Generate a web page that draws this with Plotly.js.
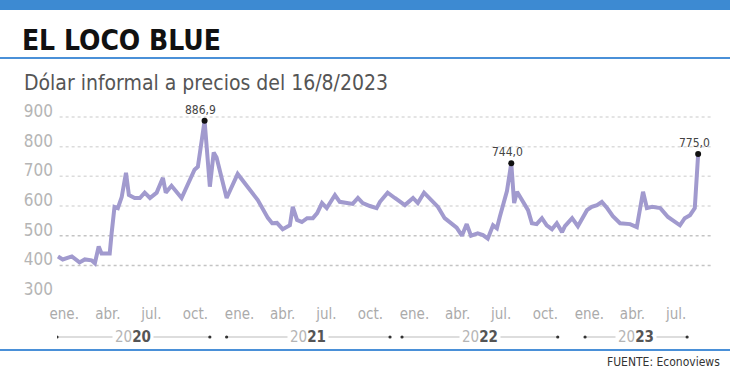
<!DOCTYPE html>
<html>
<head>
<meta charset="utf-8">
<script src="https://cdn.plot.ly/plotly-3.0.1.min.js"></script>
<style>html,body{margin:0;padding:0;background:#fff;}#chart{width:730px;height:376px;}</style>
</head>
<body>
<div id="chart"></div>
<script>
// ---- data ----
const dates = [
 '2019-12-19','2019-12-29','2020-01-17','2020-02-02','2020-02-13','2020-02-27','2020-03-05','2020-03-13','2020-03-19','2020-04-05',
 '2020-04-09','2020-04-15','2020-04-22','2020-04-30','2020-05-09','2020-05-15','2020-05-27','2020-06-07','2020-06-17','2020-06-28',
 '2020-07-12','2020-07-25','2020-07-31','2020-08-08','2020-08-12','2020-09-02','2020-09-29','2020-10-06','2020-10-20','2020-10-31',
 '2020-11-08','2020-11-14','2020-11-21','2020-12-05','2020-12-28','2021-01-18','2021-02-08','2021-03-01','2021-03-10','2021-03-20',
 '2021-04-01','2021-04-16','2021-04-22','2021-05-01','2021-05-11','2021-05-22','2021-06-03','2021-06-12','2021-06-22','2021-07-02',
 '2021-07-19','2021-07-29','2021-08-13','2021-08-25','2021-09-05','2021-09-15','2021-09-30','2021-10-14','2021-10-21','2021-11-06',
 '2021-11-21','2021-12-12','2021-12-29','2022-01-08','2022-01-21','2022-02-06','2022-02-19','2022-03-05','2022-03-30','2022-04-10',
 '2022-04-20','2022-04-29','2022-05-13','2022-05-24','2022-06-03','2022-06-14','2022-06-22','2022-06-28','2022-07-05','2022-07-13',
 '2022-07-22','2022-07-28','2022-08-03','2022-08-13','2022-08-26','2022-09-03','2022-09-13','2022-09-24','2022-10-04','2022-10-15',
 '2022-10-25','2022-11-05','2022-11-11','2022-11-26','2022-12-08','2022-12-27','2023-01-06','2023-01-17','2023-01-27','2023-02-07',
 '2023-02-19','2023-03-06','2023-03-27','2023-04-10','2023-04-23','2023-05-01','2023-05-12','2023-05-29','2023-06-14','2023-07-09',
 '2023-07-19','2023-07-30','2023-08-09','2023-08-16'
];
const values = [
 430,420,430,410,420,417,407,464,440,440,
 508,597,593,630,712,637,627,627,645,627,
 645,695,645,661,668,627,722,732,886.9,665,
 780,763,715,627,708,665,620,560,542,543,
 522,535,597,553,546,559,559,576,610,593,
 637,614,610,607,627,610,600,593,614,645,
 627,603,627,610,645,620,597,559,527,500,
 539,500,508,502,490,535,525,563,600,650,
 744,610,648,620,586,542,539,559,535,522,
 542,512,532,559,532,586,597,603,614,593,
 566,542,539,529,648,593,597,593,563,535,
 559,569,593,775
];
const peakDates  = ['2020-10-20','2022-07-22','2023-08-16'];
const peakValues = [886.9, 744.0, 775.0];
const peakLabels = ['886,9','744,0','775,0'];

const yTickVals = [300,400,500,600,700,800,900];
const yGridVals = [400,500,600,700,800,900];
const monthTickVals = ['2020-01-01','2020-04-01','2020-07-01','2020-10-01',
                       '2021-01-01','2021-04-01','2021-07-01','2021-10-01',
                       '2022-01-01','2022-04-01','2022-07-01','2022-10-01',
                       '2023-01-01','2023-04-01','2023-07-01'];
const monthTickText = ['ene.','abr.','jul.','oct.','ene.','abr.','jul.','oct.',
                       'ene.','abr.','jul.','oct.','ene.','abr.','jul.'];
const yearLabels = ['2020','2021','2022','2023'];
const yearStart  = ['2019-12-17','2020-12-05','2021-12-06','2022-12-23'];
const yearEnd    = ['2020-10-31','2021-11-11','2022-10-27','2023-07-24'];

// ---- build ----
const FONT = '"DejaVu Sans Condensed", "Liberation Sans Narrow", "DejaVu Sans", sans-serif';
const midDate = (a, b) => {
  const t = (Date.parse(a) + Date.parse(b)) / 2;
  return new Date(t).toISOString().slice(0, 10);
};

const traces = [
  {
    x: dates, y: values, type: 'scatter', mode: 'lines',
    line: {color: '#a19ace', width: 4, shape: 'linear'},
    hoverinfo: 'skip', cliponaxis: false
  },
  {
    x: peakDates, y: peakValues, type: 'scatter', mode: 'markers',
    marker: {color: '#111', size: 6},
    hoverinfo: 'skip', cliponaxis: false
  }
];

const shapes = [
  {type: 'rect', xref: 'paper', yref: 'paper', x0: -0.1, x1: 1.1, y0: 1.532, y1: 1.6,
   fillcolor: '#3d8ad2', line: {width: 0}},
  {type: 'line', xref: 'paper', yref: 'paper', x0: -0.1, x1: 1.1, y0: 1.279, y1: 1.279,
   line: {color: '#4a90d8', width: 2}},
  {type: 'line', xref: 'paper', yref: 'paper', x0: -0.1, x1: 1.1, y0: -0.258, y1: -0.258,
   line: {color: '#4a90d8', width: 2}}
];
yGridVals.forEach(v => {
  shapes.push({type: 'line', xref: 'paper', yref: 'y', x0: 0.004, x1: 1, y0: v, y1: v, layer: 'below',
               line: {color: v <= 500 ? '#c4c4c4' : '#dcdcdc', width: 1.5, dash: 'dot'}});
});

const annotations = [
  {xref: 'paper', yref: 'paper', x: -0.0534, y: 1.147, xanchor: 'left', yanchor: 'middle',
   text: 'Dólar informal a precios del 16/8/2023', showarrow: false,
   font: {family: FONT, size: 21, color: '#555'}},
  {xref: 'paper', yref: 'paper', x: 1.0137, y: -0.321, xanchor: 'right', yanchor: 'middle',
   text: 'FUENTE: Econoviews', showarrow: false,
   font: {family: FONT, size: 12, color: '#333'}}
];

yearLabels.forEach((lab, i) => {
  shapes.push({type: 'line', xref: 'x', yref: 'paper', x0: yearStart[i], x1: yearEnd[i],
               y0: -0.1895, y1: -0.1895, line: {color: '#bbb', width: 1}});
  [yearStart[i], yearEnd[i]].forEach(d => {
    shapes.push({type: 'circle', xref: 'x', yref: 'paper', xsizemode: 'pixel', ysizemode: 'pixel',
                 xanchor: d, yanchor: -0.1895, x0: -1.6, x1: 1.6, y0: -1.6, y1: 1.6,
                 fillcolor: '#333', line: {width: 0}});
  });
  annotations.push({xref: 'x', yref: 'paper', x: midDate(yearStart[i], yearEnd[i]), y: -0.1895,
                    xanchor: 'center', yanchor: 'middle', showarrow: false, bgcolor: '#fff', borderpad: 2,
                    text: '<span style="color:#b5b5b5">' + lab.slice(0, 2) + '</span><b>' + lab.slice(2) + '</b>',
                    font: {family: FONT, size: 15, color: '#555'}});
});

peakDates.forEach((d, i) => {
  annotations.push({xref: 'x', yref: 'y', x: d, y: peakValues[i], text: peakLabels[i],
                    showarrow: false, xanchor: 'center', yanchor: 'bottom', yshift: 2, xshift: -4,
                    font: {family: FONT, size: 12, color: '#444'}});
});

const layout = {
  width: 730, height: 376, autosize: false,
  margin: {l: 57, r: 17, t: 111, b: 75, pad: 0},
  paper_bgcolor: '#fff', plot_bgcolor: '#fff',
  showlegend: false,
  title: {text: '<b>EL LOCO BLUE</b>', xref: 'container', yref: 'container',
          x: 0.030, xanchor: 'left', y: 0.894, yanchor: 'middle',
          font: {family: FONT, size: 28, color: '#111'}},
  xaxis: {
    type: 'date', range: ['2019-12-17', '2023-09-16'],
    tickmode: 'array', tickvals: monthTickVals, ticktext: monthTickText,
    showgrid: false, zeroline: false, showline: false, ticks: '',
    ticklabelstandoff: 2,
    tickfont: {family: FONT, size: 15, color: '#ababab'}
  },
  yaxis: {
    range: [280, 920], tickmode: 'array', tickvals: yTickVals,
    showgrid: false, zeroline: false, showline: false, ticks: '',
    ticklabelshift: -6, ticklabelstandoff: 3,
    tickfont: {family: FONT, size: 17, color: '#b5b5b5'}
  },
  shapes: shapes,
  annotations: annotations
};

Plotly.newPlot('chart', traces, layout, {staticPlot: true, displayModeBar: false});
</script>
</body>
</html>
